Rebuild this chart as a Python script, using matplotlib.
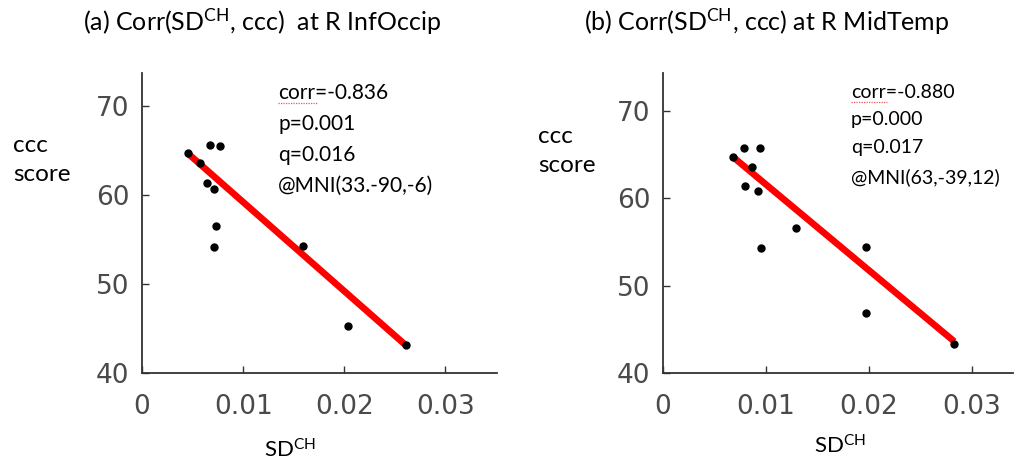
"""Render out.png: two scatter panels of ccc score vs SD^CH with fit lines."""

import matplotlib
matplotlib.use("Agg")
import matplotlib.pyplot as plt
from matplotlib.lines import Line2D

# Panel (a): R InfOccip
A_SD = [0.0045, 0.0057, 0.0067, 0.0077, 0.0064, 0.0071, 0.0073, 0.0071, 0.0159, 0.0204, 0.0261]
A_CCC = [64.7, 63.6, 65.6, 65.5, 61.3, 60.7, 56.5, 54.1, 54.3, 45.3, 43.1]
A_FIT_X = [0.0045, 0.0261]
A_FIT_Y = [64.7, 43.1]
A_STATS = ["corr=-0.836", "p=0.001", "q=0.016", "@MNI(33.-90,-6)"]

# Panel (b): R MidTemp
B_SD = [0.0068, 0.0079, 0.0094, 0.0086, 0.0080, 0.0092, 0.0129, 0.0095, 0.0197, 0.0197, 0.0283]
B_CCC = [64.7, 65.7, 65.7, 63.6, 61.4, 60.8, 56.6, 54.3, 54.4, 46.9, 43.3]
B_FIT_X = [0.0068, 0.0283]
B_FIT_Y = [64.7, 43.6]
B_STATS = ["corr=-0.880", "p=0.000", "q=0.017", "@MNI(63,-39,12)"]

X_TICKS = [0, 0.01, 0.02, 0.03]
X_TICKLABELS = ["0", "0.01", "0.02", "0.03"]
Y_TICKS = [40, 50, 60, 70]

TITLES = [
    r"(a) Corr(SD$^{\mathrm{CH}}$, ccc)  at R InfOccip",
    r"(b) Corr(SD$^{\mathrm{CH}}$, ccc) at R MidTemp",
]
XLABEL = r"SD$^{\mathrm{CH}}$"
YLABEL = "ccc\nscore"

plt.rcParams["mathtext.fontset"] = "custom"
plt.rcParams["mathtext.rm"] = "Lato"
plt.rcParams["mathtext.it"] = "Lato:italic"
plt.rcParams["mathtext.bf"] = "Lato:bold"

TEXT_FONT = "Lato"
TICK_FONT = "DejaVu Sans"
TICK_COLOR = "#4a4a4a"
AXIS_COLOR = "#333333"
W, H = 1015, 463


def draw_panel(ax, sd, ccc, fit_x, fit_y, xmax, ymax):
    ax.plot(fit_x, fit_y, color="#ff0000", linewidth=4.8, solid_capstyle="butt", zorder=2)
    ax.plot(sd, ccc, linestyle="none", marker="o", markersize=5,
            color="black", zorder=3)
    ax.set_xlim(0, xmax)
    ax.set_ylim(40, ymax)
    ax.set_xticks(X_TICKS)
    ax.set_xticklabels(X_TICKLABELS)
    ax.set_yticks(Y_TICKS)
    for side in ("top", "right"):
        ax.spines[side].set_visible(False)
    for side in ("left", "bottom"):
        ax.spines[side].set_color(AXIS_COLOR)
        ax.spines[side].set_linewidth(1.3)
    ax.tick_params(axis="both", direction="in", length=5, width=1,
                   color=AXIS_COLOR, labelcolor=TICK_COLOR, labelsize=19)
    ax.tick_params(axis="x", pad=15)
    ax.tick_params(axis="y", pad=9)
    for lab in ax.get_xticklabels() + ax.get_yticklabels():
        lab.set_fontfamily(TICK_FONT)


def stats_block(fig, x, y_rows, lines, size, squiggle_end):
    for y, line in zip(y_rows, lines):
        fig.text(x / W, 1 - y / H, line, ha="left", va="center",
                 fontsize=size, family=TEXT_FONT)
    # spell-check style underline under "corr"
    uy = y_rows[0] + 10
    fig.add_artist(Line2D([x / W, squiggle_end / W], [1 - uy / H, 1 - uy / H],
                          color="#e03030", linewidth=0.9, linestyle=(0, (1, 1)),
                          alpha=0.8))


fig = plt.figure(figsize=(10.15, 4.63), dpi=100)

ax_a = fig.add_axes([142 / W, 1 - 373 / H, 355 / W, 300 / H])
draw_panel(ax_a, A_SD, A_CCC, A_FIT_X, A_FIT_Y, 0.0351, 73.7)

ax_b = fig.add_axes([663 / W, 1 - 373 / H, 350 / W, 300 / H])
draw_panel(ax_b, B_SD, B_CCC, B_FIT_X, B_FIT_Y, 0.0340, 74.3)

# titles
fig.text(262 / W, 1 - 22 / H, TITLES[0], ha="center", va="center",
         fontsize=18, family=TEXT_FONT)
fig.text(767 / W, 1 - 22 / H, TITLES[1], ha="center", va="center",
         fontsize=18, family=TEXT_FONT)

# y labels
fig.text(13 / W, 1 - 160 / H, YLABEL, ha="left", va="center",
         fontsize=17.5, family=TEXT_FONT, linespacing=1.45)
fig.text(538 / W, 1 - 151 / H, YLABEL, ha="left", va="center",
         fontsize=17.5, family=TEXT_FONT, linespacing=1.45)

# x labels
fig.text(290 / W, 1 - 450 / H, XLABEL, ha="center", va="center",
         fontsize=16, family=TEXT_FONT)
fig.text(840 / W, 1 - 446 / H, XLABEL, ha="center", va="center",
         fontsize=16, family=TEXT_FONT)

# stats
stats_block(fig, 278, [93, 124, 155, 186], A_STATS, 15, 318)
stats_block(fig, 851, [92, 120, 148, 177], B_STATS, 14, 887)

fig.savefig("out.png", dpi=100)
